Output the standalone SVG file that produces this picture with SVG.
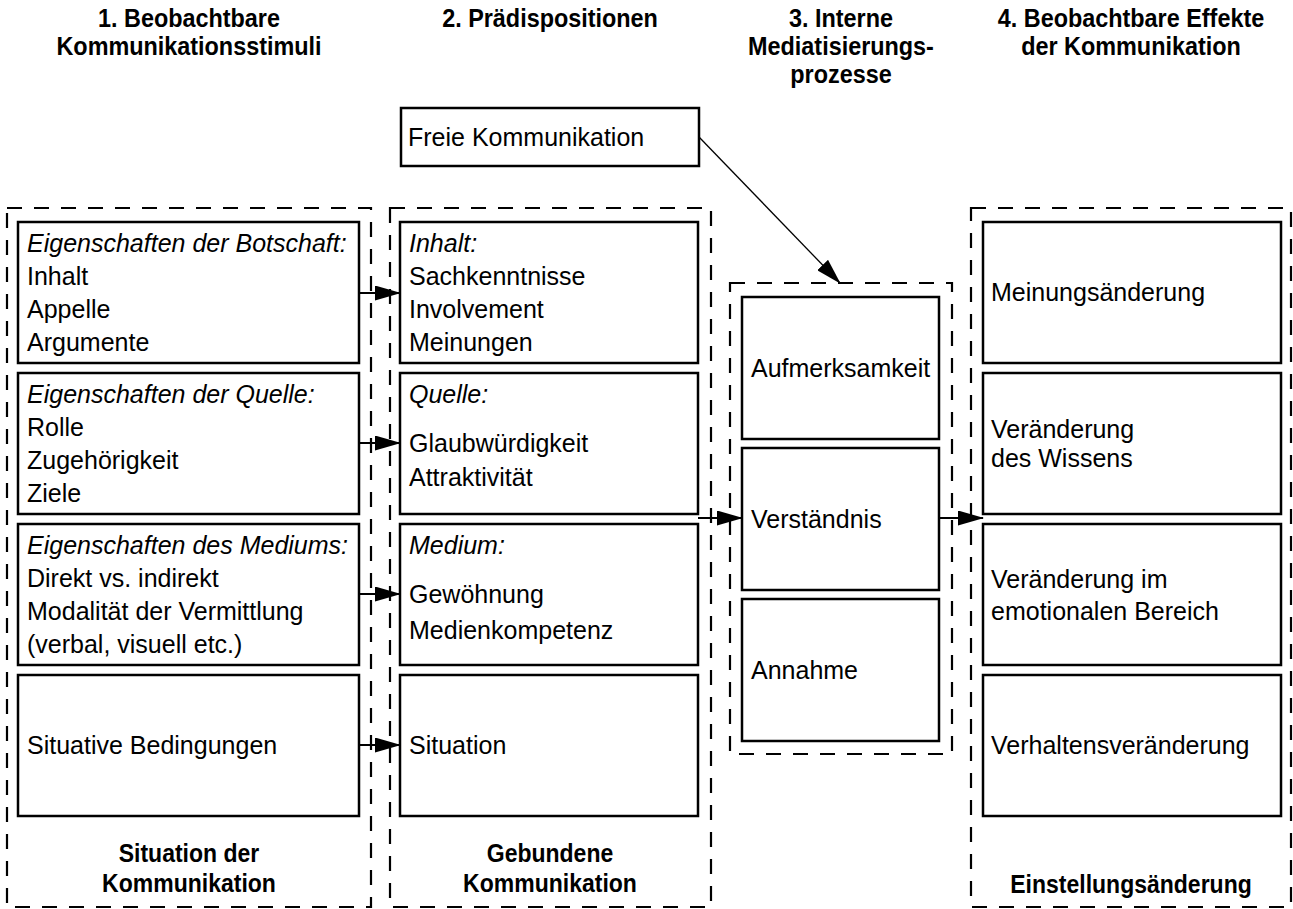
<svg xmlns="http://www.w3.org/2000/svg" width="1293" height="909" viewBox="0 0 1293 909">
<style>
.dash{fill:none;stroke:#000;stroke-width:2.2;stroke-dasharray:15 12}
.box{fill:#fff;stroke:#000;stroke-width:2.5}
.t{font-family:"Liberation Sans",Arial,sans-serif;font-size:25px;fill:#000}
.i{font-style:italic}
.h{font-family:"Liberation Sans",Arial,sans-serif;font-size:26px;font-weight:bold;fill:#000;text-anchor:middle}
.b{font-family:"Liberation Sans",Arial,sans-serif;font-size:25px;font-weight:bold;fill:#000;text-anchor:middle}
.conn{stroke:#000;stroke-width:2;fill:none;marker-end:url(#ah)}
.thin{stroke-width:1.3}
</style>
<defs>
<marker id="ah" markerUnits="userSpaceOnUse" viewBox="0 0 26 15" refX="25" refY="7.5" markerWidth="26" markerHeight="15" orient="auto">
<path d="M0,0 L26,7.5 L0,15 Z" fill="#000"/>
</marker>
</defs>
<rect width="1293" height="909" fill="#fff"/>

<g id="headers">
<text class="h" transform="translate(189,27) scale(0.9,1)">1. Beobachtbare</text>
<text class="h" transform="translate(189,55) scale(0.9,1)">Kommunikationsstimuli</text>
<text class="h" transform="translate(550,27) scale(0.9,1)">2. Prädispositionen</text>
<text class="h" transform="translate(841,27) scale(0.9,1)">3. Interne</text>
<text class="h" transform="translate(841,55) scale(0.9,1)">Mediatisierungs-</text>
<text class="h" transform="translate(841,83) scale(0.9,1)">prozesse</text>
<text class="h" transform="translate(1131,27) scale(0.9,1)">4. Beobachtbare Effekte</text>
<text class="h" transform="translate(1131,55) scale(0.9,1)">der Kommunikation</text>
</g>

<g id="groups">
<rect class="dash" x="7" y="208" width="364" height="699"/>
<rect class="dash" x="390" y="208" width="321" height="699"/>
<rect class="dash" x="730" y="283" width="222" height="471"/>
<rect class="dash" x="971" y="208" width="320" height="699"/>
<text class="b" transform="translate(189,862) scale(0.92,1)">Situation der</text>
<text class="b" transform="translate(189,892) scale(0.92,1)">Kommunikation</text>
<text class="b" transform="translate(550,862) scale(0.92,1)">Gebundene</text>
<text class="b" transform="translate(550,892) scale(0.92,1)">Kommunikation</text>
<text class="b" transform="translate(1131,893) scale(0.92,1)">Einstellungsänderung</text>
</g>

<g id="freie">
<rect class="box" x="401" y="108" width="298" height="58"/>
<text class="t" x="408" y="146">Freie Kommunikation</text>
</g>

<g id="c1-botschaft">
<rect class="box" x="18" y="222" width="341" height="141"/>
<text class="t i" x="27" y="252">Eigenschaften der Botschaft:</text>
<text class="t" x="27" y="285">Inhalt</text>
<text class="t" x="27" y="318">Appelle</text>
<text class="t" x="27" y="351">Argumente</text>
</g>
<g id="c1-quelle">
<rect class="box" x="18" y="373" width="341" height="141"/>
<text class="t i" x="27" y="403">Eigenschaften der Quelle:</text>
<text class="t" x="27" y="436">Rolle</text>
<text class="t" x="27" y="469">Zugehörigkeit</text>
<text class="t" x="27" y="502">Ziele</text>
</g>
<g id="c1-medium">
<rect class="box" x="18" y="524" width="341" height="141"/>
<text class="t i" x="27" y="554">Eigenschaften des Mediums:</text>
<text class="t" x="27" y="587">Direkt vs. indirekt</text>
<text class="t" x="27" y="620">Modalität der Vermittlung</text>
<text class="t" x="27" y="653">(verbal, visuell etc.)</text>
</g>
<g id="c1-situation">
<rect class="box" x="18" y="675" width="341" height="141"/>
<text class="t" x="27" y="754">Situative Bedingungen</text>
</g>

<g id="c2-inhalt">
<rect class="box" x="400" y="222" width="298" height="141"/>
<text class="t i" x="409" y="252">Inhalt:</text>
<text class="t" x="409" y="285">Sachkenntnisse</text>
<text class="t" x="409" y="318">Involvement</text>
<text class="t" x="409" y="351">Meinungen</text>
</g>
<g id="c2-quelle">
<rect class="box" x="400" y="373" width="298" height="141"/>
<text class="t i" x="409" y="403">Quelle:</text>
<text class="t" x="409" y="452">Glaubwürdigkeit</text>
<text class="t" x="409" y="486">Attraktivität</text>
</g>
<g id="c2-medium">
<rect class="box" x="400" y="524" width="298" height="141"/>
<text class="t i" x="409" y="554">Medium:</text>
<text class="t" x="409" y="603">Gewöhnung</text>
<text class="t" x="409" y="639">Medienkompetenz</text>
</g>
<g id="c2-situation">
<rect class="box" x="400" y="675" width="298" height="141"/>
<text class="t" x="409" y="754">Situation</text>
</g>

<g id="c3-aufmerksamkeit">
<rect class="box" x="742" y="297" width="197" height="142"/>
<text class="t" x="751" y="377">Aufmerksamkeit</text>
</g>
<g id="c3-verstaendnis">
<rect class="box" x="742" y="448" width="197" height="142"/>
<text class="t" x="751" y="528">Verständnis</text>
</g>
<g id="c3-annahme">
<rect class="box" x="742" y="599" width="197" height="142"/>
<text class="t" x="751" y="679">Annahme</text>
</g>

<g id="c4-meinung">
<rect class="box" x="983" y="222" width="298" height="141"/>
<text class="t" x="991" y="301">Meinungsänderung</text>
</g>
<g id="c4-wissen">
<rect class="box" x="983" y="373" width="298" height="141"/>
<text class="t" x="991" y="438">Veränderung</text>
<text class="t" x="991" y="467">des Wissens</text>
</g>
<g id="c4-emotion">
<rect class="box" x="983" y="524" width="298" height="141"/>
<text class="t" x="991" y="588">Veränderung im</text>
<text class="t" x="991" y="620">emotionalen Bereich</text>
</g>
<g id="c4-verhalten">
<rect class="box" x="983" y="675" width="298" height="141"/>
<text class="t" x="991" y="754">Verhaltensveränderung</text>
</g>

<g id="connectors">
<line class="conn" x1="359" y1="293" x2="400" y2="293"/>
<line class="conn" x1="359" y1="443" x2="400" y2="443"/>
<line class="conn" x1="359" y1="594" x2="400" y2="594"/>
<line class="conn" x1="359" y1="745" x2="400" y2="745"/>
<line class="conn" x1="698" y1="518" x2="742" y2="518"/>
<line class="conn" x1="939" y1="518" x2="983" y2="518"/>
<line class="conn thin" x1="699" y1="137" x2="840" y2="283"/>
</g>
</svg>
